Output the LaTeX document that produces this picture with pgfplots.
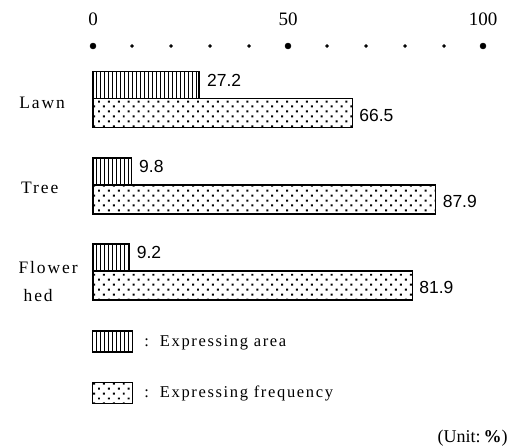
\documentclass[border=0pt]{standalone}
\usepackage{fontspec}
\usepackage{pgfplots}
\pgfplotsset{compat=1.18}
\usetikzlibrary{patterns.meta}
\setmainfont{Liberation Serif}
\newfontfamily\valfont{Liberation Sans}
\newfontfamily\catfont[LetterSpace=11]{Liberation Serif}
\newfontfamily\legfont[LetterSpace=10]{Liberation Serif}

% bar patterns as in the print
\tikzset{
  areafill/.style={draw=black, line width=1.3bp, pattern={Lines[angle=90, distance=4bp, line width=0.8bp]}},
  freqfill/.style={draw=black, line width=1.3bp, pattern={Dots[angle=45, distance=7bp, radius=1.4bp]}},
}

\begin{document}
\begin{tikzpicture}
\useasboundingbox (0,0) rectangle (520bp,-448bp);
\begin{axis}[
  at={(93bp,-46bp)}, anchor=north west,
  scale only axis, width=390bp, height=402bp,
  xmin=0, xmax=100, ymin=-448, ymax=-46,
  axis x line*=top, hide y axis,
  x axis line style={draw=none},
  xtick={0,50,100}, major tick length=0pt,
  /pgf/number format/assume math mode=true,
  xticklabel style={font=\fontsize{19bp}{22bp}\selectfont, anchor=center, yshift=27bp},
  xbar, bar shift=0pt,
  point meta=x,
  nodes near coords={\pgfmathprintnumber[fixed, fixed zerofill, precision=1]{\pgfplotspointmeta}},
  clip=false,
  legend style={draw=none, fill=none, at={(axis cs:-0.3,-330)}, anchor=north west,
    font=\legfont\fontsize{16.5bp}{19bp}\selectfont, row sep=29bp,
    inner xsep=0pt, inner ysep=0pt},
  legend cell align=left,
]
% scale dots
\addplot[forget plot, xbar=false, only marks, mark=*, mark size=3bp, black, nodes near coords=] coordinates {(0,-46) (50,-46) (100,-46)};
\addplot[forget plot, xbar=false, only marks, mark=*, mark size=1.5bp, black, nodes near coords=] coordinates {(10,-46) (20,-46) (30,-46) (40,-46) (60,-46) (70,-46) (80,-46) (90,-46)};

% Expressing area
\addplot[areafill, bar width=27bp,
  every node near coord/.append style={anchor=west, xshift=4bp, yshift=5bp, font=\valfont\fontsize{17.5bp}{20bp}\selectfont, black},
  legend image code/.code={\draw[areafill] (0bp,-10.5bp) rectangle (40bp,10.5bp);}]
  coordinates {(27.2,-85) (9.8,-171.5) (9.2,-257.5)};
\addlegendentry{\hspace{9bp}:\hspace{11bp}Expressing area}

% Expressing frequency
\addplot[freqfill, bar width=29bp,
  every node near coord/.append style={anchor=west, xshift=3bp, yshift=-2bp, font=\valfont\fontsize{17.5bp}{20bp}\selectfont, black},
  legend image code/.code={\draw[freqfill] (0bp,-10.5bp) rectangle (40bp,10.5bp);}]
  coordinates {(66.5,-113) (87.9,-199.5) (81.9,-285.5)};
\addlegendentry{\hspace{9bp}:\hspace{11bp}Expressing frequency}

% category labels
\node[anchor=west, font=\catfont\fontsize{17.5bp}{20bp}\selectfont] at (axis cs:-19.8,-103) {Lawn};
\node[anchor=west, font=\catfont\fontsize{17.5bp}{20bp}\selectfont] at (axis cs:-19.3,-188) {Tree};
\node[anchor=west, font=\catfont\fontsize{17.5bp}{20bp}\selectfont] at (axis cs:-20,-268) {Flower};
\node[anchor=west, font=\catfont\fontsize{17.5bp}{20bp}\selectfont] at (axis cs:-18.7,-296) {hed};

\node[anchor=east, font=\fontsize{18bp}{20bp}\selectfont] at (axis cs:107.2,-438) {(Unit:\,\textbf{\%})};
\end{axis}
\end{tikzpicture}
\end{document}
